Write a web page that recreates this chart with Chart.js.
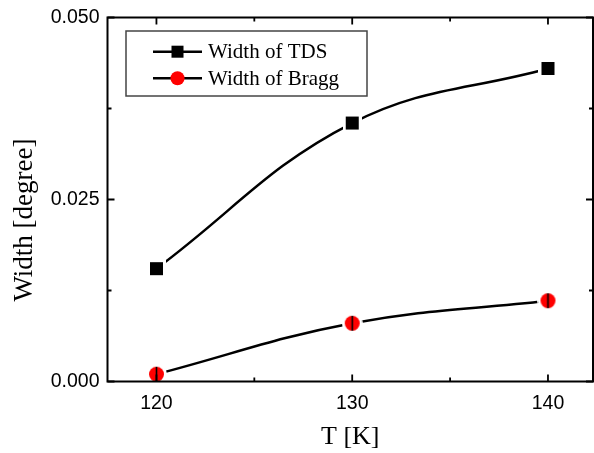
<!DOCTYPE html>
<html>
<head>
<meta charset="utf-8">
<script src="https://cdn.jsdelivr.net/npm/chart.js@4.4.1/dist/chart.umd.min.js"></script>
<style>
  html, body { margin: 0; padding: 0; background: #fff; }
  #wrap { width: 594px; height: 453px; }
</style>
</head>
<body>
<div id="wrap"><canvas id="chart" width="594" height="453"></canvas></div>
<script>
/* ---- data ---- */
const temps       = [120, 130, 140];
const widthTDS    = [0.0155, 0.0355, 0.0430];
const widthBragg  = [0.0010, 0.0080, 0.0111];
const seriesNames = ['Width of TDS', 'Width of Bragg'];

const xTicks      = [120, 130, 140];
const xMinorTicks = [125, 135];
const yTicks      = [0, 0.025, 0.05];
const yMinorTicks = [0.0125, 0.0375];

const SERIF = '"Liberation Serif", "Times New Roman", serif';
const SANS  = '"Liberation Sans", Arial, sans-serif';

/* ---- marker images (white halo leaves the gap around each point) ---- */
function squareMarker(side, halo) {
  const c = document.createElement('canvas');
  const n = side + halo * 2;
  c.width = n; c.height = n;
  const g = c.getContext('2d');
  g.fillStyle = '#fff';
  g.fillRect(0, 0, n, n);
  g.fillStyle = '#000';
  g.fillRect(halo, halo, side, side);
  return c;
}

function circleMarker(diam, halo) {
  const c = document.createElement('canvas');
  const n = diam + halo * 2;
  c.width = n; c.height = n;
  const g = c.getContext('2d');
  const m = n / 2;
  g.fillStyle = '#fff';
  g.beginPath(); g.arc(m, m, m, 0, Math.PI * 2); g.fill();
  g.fillStyle = '#ff0000';
  g.beginPath(); g.arc(m, m, diam / 2, 0, Math.PI * 2); g.fill();
  g.strokeStyle = '#000';
  g.lineWidth = 1.6;
  g.beginPath(); g.moveTo(m, m - diam / 2); g.lineTo(m, m + diam / 2); g.stroke();
  return c;
}

const squareMark = squareMarker(13, 3);
const circleMark = circleMarker(15, 3);

/* ---- frame, inward ticks, y title, legend box ---- */
const framePlugin = {
  id: 'frame',
  afterDraw(chart) {
    const { ctx, chartArea: a, scales: { x, y } } = chart;
    ctx.save();
    ctx.strokeStyle = '#000';
    ctx.lineWidth = 2;
    ctx.strokeRect(a.left, a.top, a.right - a.left, a.bottom - a.top);

    ctx.beginPath();
    const xt = (v, len) => {
      const px = x.getPixelForValue(v);
      ctx.moveTo(px, a.bottom); ctx.lineTo(px, a.bottom - len);
      ctx.moveTo(px, a.top);    ctx.lineTo(px, a.top + len);
    };
    const yt = (v, len) => {
      const py = y.getPixelForValue(v);
      ctx.moveTo(a.left, py);  ctx.lineTo(a.left + len, py);
      ctx.moveTo(a.right, py); ctx.lineTo(a.right - len, py);
    };
    xTicks.forEach(v => xt(v, 7));
    xMinorTicks.forEach(v => xt(v, 4));
    yTicks.forEach(v => yt(v, 7));
    yMinorTicks.forEach(v => yt(v, 4));
    ctx.lineWidth = 1.8;
    ctx.stroke();

    /* y axis title */
    ctx.save();
    ctx.translate(25, 220);
    ctx.rotate(-Math.PI / 2);
    ctx.fillStyle = '#000';
    ctx.font = '27px ' + SERIF;
    ctx.textAlign = 'center';
    ctx.textBaseline = 'middle';
    ctx.fillText('Width [degree]', 0, 0);
    ctx.restore();

    /* legend */
    ctx.strokeStyle = '#444';
    ctx.lineWidth = 1.5;
    ctx.strokeRect(126, 31, 241, 65);
    const rows = [51.7, 78.3];
    chart.data.datasets.forEach((ds, i) => {
      const ry = rows[i];
      ctx.strokeStyle = '#000';
      ctx.lineWidth = 2.4;
      ctx.beginPath(); ctx.moveTo(153, ry); ctx.lineTo(202, ry); ctx.stroke();
      if (i === 0) {
        ctx.fillStyle = '#000';
        ctx.fillRect(177.5 - 6, ry - 6, 12, 12);
      } else {
        ctx.fillStyle = '#ff0000';
        ctx.beginPath(); ctx.arc(177.5, ry, 7, 0, Math.PI * 2); ctx.fill();
      }
      ctx.fillStyle = '#000';
      ctx.font = '21px ' + SERIF;
      ctx.textAlign = 'left';
      ctx.textBaseline = 'middle';
      ctx.fillText(ds.label, 208, ry + 1);
    });
    ctx.restore();
  }
};

const toPoints = (xs, ys) => xs.map((t, i) => ({ x: t, y: ys[i] }));

new Chart(document.getElementById('chart'), {
  type: 'line',
  data: {
    datasets: [
      {
        label: seriesNames[0],
        data: toPoints(temps, widthTDS),
        borderColor: '#000',
        borderWidth: 2.5,
        pointStyle: squareMark,
        pointRadius: 10,
        tension: 0.4,
        clip: false,
      },
      {
        label: seriesNames[1],
        data: toPoints(temps, widthBragg),
        borderColor: '#000',
        borderWidth: 2.5,
        pointStyle: circleMark,
        pointRadius: 10,
        tension: 0.4,
        clip: false,
      },
    ],
  },
  options: {
    responsive: false,
    animation: false,
    layout: { autoPadding: false, padding: { top: 17.5, right: 1, left: 0, bottom: 0 } },
    plugins: { legend: { display: false }, tooltip: { enabled: false } },
    scales: {
      x: {
        type: 'linear',
        min: 117.5,
        max: 142.3,
        afterFit: s => { s.height = 71.5; s.paddingLeft = 0; s.paddingRight = 0; },
        afterBuildTicks: s => { s.ticks = xTicks.map(v => ({ value: v })); },
        grid: { display: false, drawTicks: false },
        border: { display: false },
        ticks: { color: '#000', padding: 10, font: { family: SANS, size: 19.5 }, callback: v => String(v) },
        title: { display: true, text: 'T [K]', color: '#000', padding: 0, font: { family: SERIF, size: 26, lineHeight: 1.2 } },
      },
      y: {
        type: 'linear',
        min: 0,
        max: 0.05,
        afterFit: s => { s.width = 107.5; s.paddingTop = 0; s.paddingBottom = 0; },
        afterBuildTicks: s => { s.ticks = yTicks.map(v => ({ value: v })); },
        grid: { display: false, drawTicks: false },
        border: { display: false },
        ticks: { color: '#000', padding: 8, font: { family: SANS, size: 19.5 }, callback: v => v.toFixed(3) },
      },
    },
  },
  plugins: [framePlugin],
});
</script>
</body>
</html>
